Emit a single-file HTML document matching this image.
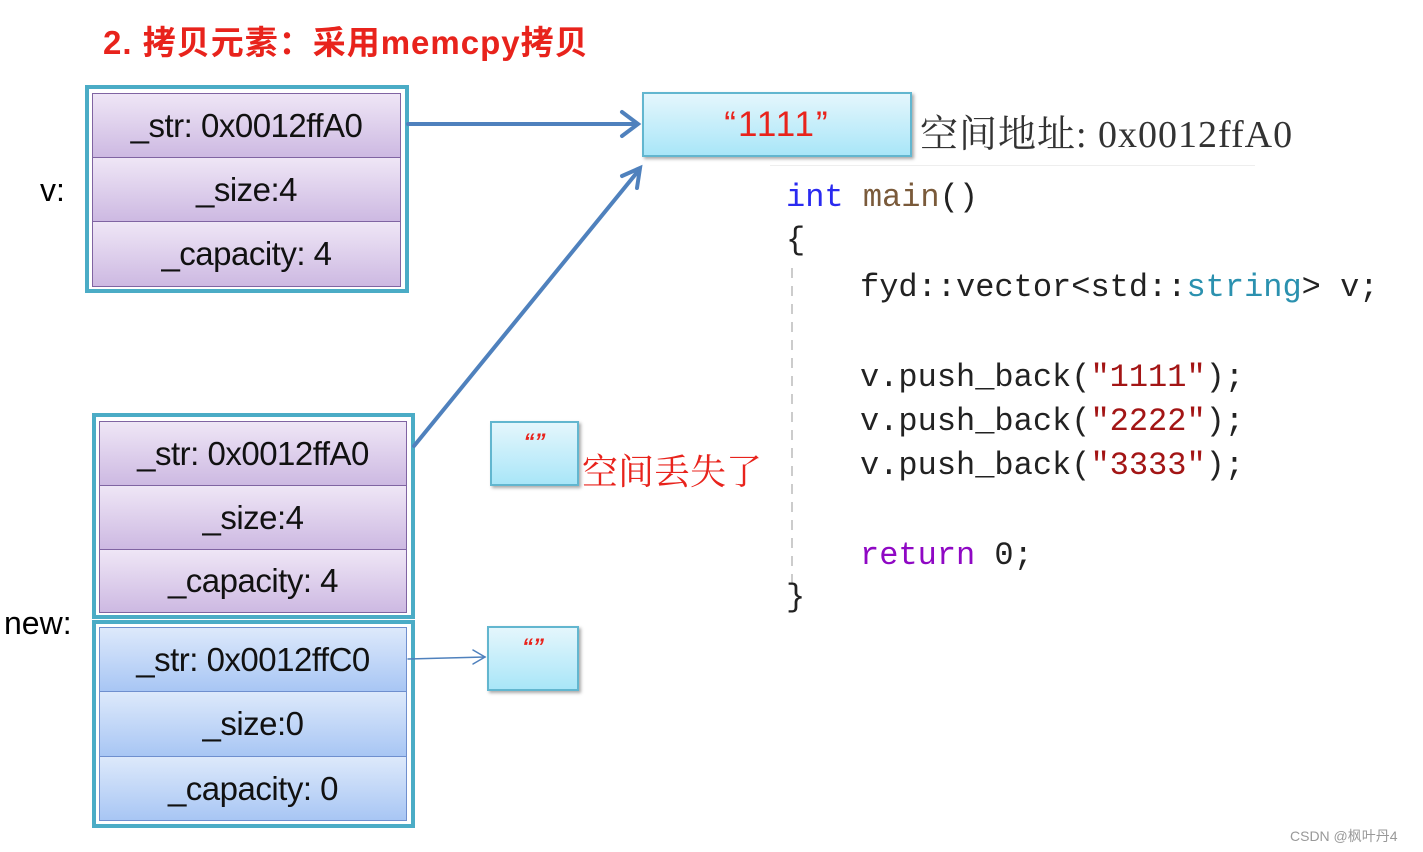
<!DOCTYPE html>
<html><head><meta charset="utf-8"><style>
body{margin:0;width:1423px;height:852px;background:#fff;position:relative;overflow:hidden;font-family:"Liberation Sans","Noto Sans CJK SC",sans-serif}
.a{position:absolute}
.outer{position:absolute;border:4px solid #4bacc6;box-sizing:border-box;background:#fff}
.row{position:absolute;box-sizing:border-box;border:1.5px solid #8064a2;text-align:center;font-size:33px;letter-spacing:-0.5px;color:#111;display:flex;align-items:center;justify-content:center}
.p{background:linear-gradient(#efe6f6,#cdb9e2)}
.b{background:linear-gradient(#dde9fb,#a8c6f4);border-color:#6f8fce}
.cy{position:absolute;box-sizing:border-box;border:2px solid #62b6cf;background:linear-gradient(#e4f6fc,#a9e6f8);box-shadow:2px 2px 3px #aaa}
.code{position:absolute;font-family:"Liberation Mono","Noto Sans CJK SC",monospace;font-size:32px;color:#222;white-space:pre;line-height:1}
</style></head><body>
<div class="a" style="left:103px;top:16px;font-size:33px;font-weight:bold;color:#e8231c;font-family:'Liberation Sans','Noto Sans CJK SC',sans-serif;letter-spacing:1px">2. 拷贝元素：采用memcpy拷贝</div>

<div class="a" style="left:40px;top:172px;font-size:32px">v:</div>
<div class="outer" style="left:85px;top:85px;width:324px;height:208px"></div>
<div class="row p" style="left:92px;top:93px;width:309px;height:65px">_str: 0x0012ffA0</div>
<div class="row p" style="left:92px;top:157px;width:309px;height:65px">_size:4</div>
<div class="row p" style="left:92px;top:221px;width:309px;height:66px">_capacity: 4</div>

<div class="a" style="left:4px;top:605px;font-size:32px">new:</div>
<div class="outer" style="left:92px;top:413px;width:323px;height:206px"></div>
<div class="row p" style="left:99px;top:421px;width:308px;height:65px">_str: 0x0012ffA0</div>
<div class="row p" style="left:99px;top:485px;width:308px;height:65px">_size:4</div>
<div class="row p" style="left:99px;top:549px;width:308px;height:64px">_capacity: 4</div>
<div class="outer" style="left:92px;top:620px;width:323px;height:208px"></div>
<div class="row b" style="left:99px;top:627px;width:308px;height:65px">_str: 0x0012ffC0</div>
<div class="row b" style="left:99px;top:691px;width:308px;height:66px">_size:0</div>
<div class="row b" style="left:99px;top:756px;width:308px;height:65px">_capacity: 0</div>

<div class="cy" style="left:642px;top:92px;width:270px;height:65px;display:flex;align-items:center;justify-content:center;color:#e8231c;font-size:35px;letter-spacing:2px">“1111”</div>
<div class="a" style="left:920px;top:103px;font-size:38px;color:#333;font-family:'Liberation Serif','Noto Serif CJK SC',serif;letter-spacing:1px">空间地址: 0x0012ffA0</div>
<div class="a" style="left:770px;top:165px;width:485px;height:1px;background:#eee"></div>

<div class="cy" style="left:490px;top:421px;width:89px;height:65px;text-align:center;color:#e8231c;font-size:22px;font-style:italic;font-weight:bold;padding-top:6px">“”</div>
<div class="a" style="left:582px;top:444px;font-size:36px;color:#e8231c;font-family:'Noto Serif CJK SC',serif">空间丢失了</div>
<div class="cy" style="left:487px;top:626px;width:92px;height:65px;text-align:center;color:#e8231c;font-size:22px;font-style:italic;font-weight:bold;padding-top:6px">“”</div>

<svg class="a" style="left:0;top:0" width="1423" height="852">
<g stroke="#4f81bd" fill="none" stroke-linecap="round">
<line x1="408" y1="124" x2="637" y2="124" stroke-width="4"/>
<polyline points="622,112 638,124 622,136" stroke-width="4"/>
<line x1="414" y1="446" x2="639" y2="170" stroke-width="4"/>
<polyline points="622,176 640,168 637,188" stroke-width="4"/>
<line x1="408" y1="659" x2="485" y2="657" stroke-width="1.5"/>
<polyline points="473,650 485,657 473,664" stroke-width="1.5"/>
</g>
<line x1="792" y1="268" x2="792" y2="592" stroke="#ccc" stroke-width="2" stroke-dasharray="10,8"/>
</svg>

<div class="code" style="left:786px;top:182px"><span style="color:#2a2af0">int</span> <span style="color:#7a5a3a">main</span>()</div>
<div class="code" style="left:786px;top:225px">{</div>
<div class="code" style="left:860px;top:272px">fyd::vector&lt;std::<span style="color:#2b91af">string</span>&gt; v;</div>
<div class="code" style="left:860px;top:362px">v.push_back(<span style="color:#a31515">"1111"</span>);</div>
<div class="code" style="left:860px;top:406px">v.push_back(<span style="color:#a31515">"2222"</span>);</div>
<div class="code" style="left:860px;top:450px">v.push_back(<span style="color:#a31515">"3333"</span>);</div>
<div class="code" style="left:860px;top:540px"><span style="color:#8f08c4">return</span> 0;</div>
<div class="code" style="left:786px;top:582px">}</div>

<div class="a" style="left:1290px;top:826px;font-size:14px;color:#999">CSDN @枫叶丹4</div>
</body></html>
